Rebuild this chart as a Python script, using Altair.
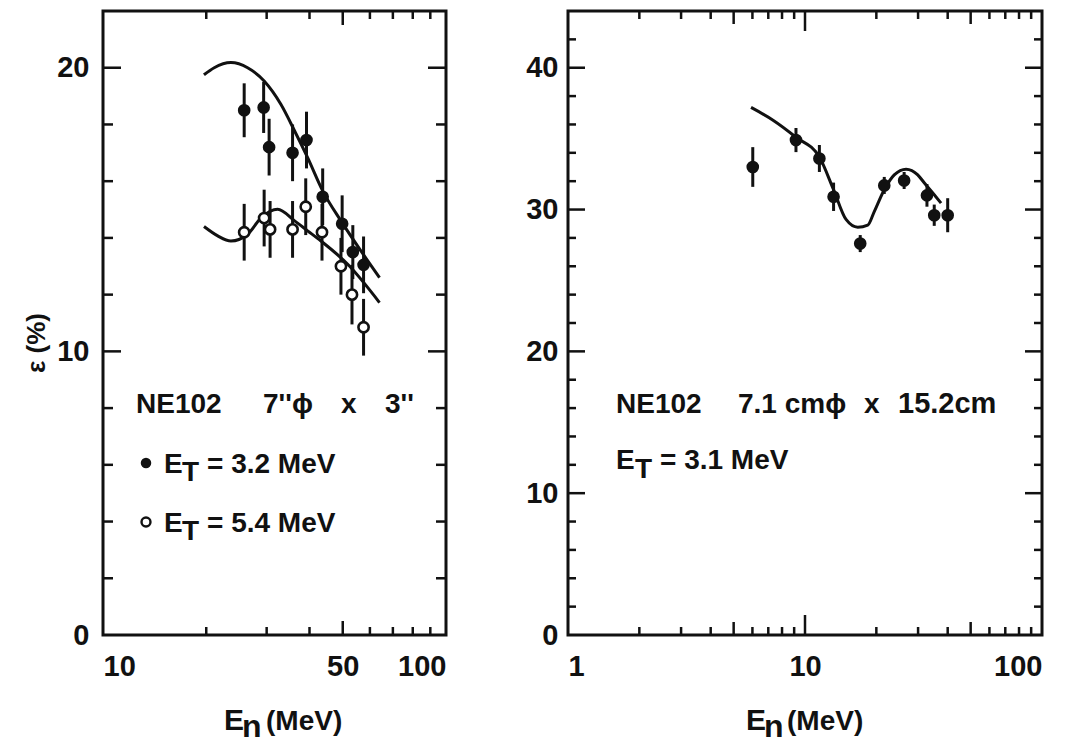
import altair as alt
import pandas as pd

FONT = "Liberation Sans"
INK = "#111111"

# ---------------- Left panel: NE102 7"phi x 3" ----------------
l_fill_E = [25.8, 29.4, 30.5, 35.7, 39.2, 43.7, 49.8, 53.5, 57.5]
l_fill_eff = [18.5, 18.6, 17.2, 17.0, 17.45, 15.45, 14.5, 13.5, 13.05]
l_fill_err = [0.95, 0.9, 1.0, 1.0, 1.0, 1.0, 1.0, 0.95, 1.0]

l_open_E = [25.8, 29.5, 30.7, 35.7, 39.0, 43.5, 49.4, 53.2, 57.5]
l_open_eff = [14.2, 14.7, 14.3, 14.3, 15.1, 14.2, 13.0, 12.0, 10.85]
l_open_err = [1.0, 1.0, 1.0, 1.0, 1.0, 1.0, 1.0, 1.05, 1.0]

l_fit1_E = [19.7, 21.1, 23.6, 26.4, 29.5, 33.0, 36.2, 39.5, 43.7, 49.4, 56.5, 64.0]
l_fit1_eff = [19.75, 20.0, 20.18, 20.0, 19.53, 18.71, 17.77, 16.83, 15.66, 14.6, 13.54, 12.6]
l_fit2_E = [19.7, 21.6, 23.6, 26.4, 28.9, 32.3, 36.2, 39.5, 43.2, 51.7, 64.0]
l_fit2_eff = [14.4, 14.07, 13.89, 14.13, 14.71, 15.01, 14.6, 14.25, 13.89, 13.07, 11.72]

l_x_labels = [10, 50, 100]
l_x_minor = [20, 30, 40, 60, 70, 80, 90]
l_x_mid = [50]
l_y_labels = [0, 10, 20]
l_y_major = [10, 20]
l_y_minor = [2, 4, 6, 8, 12, 14, 16, 18]

# ---------------- Right panel: NE102 7.1 cm phi x 15.2 cm ----------------
r_E = [6.02, 9.16, 11.5, 13.2, 17.1, 21.6, 26.2, 32.7, 35.1, 40.0]
r_eff = [33.0, 34.9, 33.6, 30.9, 27.6, 31.7, 32.05, 31.0, 29.6, 29.6]
r_err = [1.4, 0.85, 0.95, 1.0, 0.6, 0.6, 0.6, 0.8, 0.75, 1.2]

r_fit_E = [5.92, 7.33, 9.16, 11.5, 13.2, 14.9, 16.7, 18.4, 19.6, 21.6, 23.8, 26.7, 29.9, 31.9, 35.1, 37.5]
r_fit_eff = [37.2, 36.3, 35.1, 33.7, 31.4, 29.3, 28.75, 28.9, 29.86, 31.4, 32.45, 32.85, 32.45, 31.87, 31.04, 30.45]

r_x_labels = [1, 10, 100]
r_x_minor = [2, 3, 4, 6, 7, 8, 9, 20, 30, 40, 60, 70, 80, 90]
r_x_mid = [5, 50]
r_x_major = [10]
r_y_labels = [0, 10, 20, 30, 40]
r_y_major = [10, 20, 30, 40]
r_y_minor = [2, 4, 6, 8, 12, 14, 16, 18, 22, 24, 26, 28, 32, 34, 36, 38, 42]

LW, LH = 343, 624
RW, RH = 474, 624


def one_row():
    return pd.DataFrame({"k": [0]})


def text(txt, x, y, size=28, align="left", angle=0, weight="bold", baseline="alphabetic"):
    return alt.Chart(one_row()).mark_text(
        text=txt, font=FONT, fontSize=size, fontWeight=weight, color=INK,
        align=align, baseline=baseline, angle=angle
    ).encode(x=alt.value(x), y=alt.value(y))


def panel(X, Y, w, h, xtick_sets, ytick_sets, layers):
    out = []
    for vals, ln in xtick_sets:
        df = pd.DataFrame({"E": vals})
        b = alt.Chart(df).mark_rule(color=INK, strokeWidth=2.5)
        out.append(b.encode(x=X, y=alt.value(h), y2=alt.value(h - ln)))
        out.append(b.encode(x=X, y=alt.value(0), y2=alt.value(ln)))
    for vals, ln in ytick_sets:
        df = pd.DataFrame({"eff": vals})
        b = alt.Chart(df).mark_rule(color=INK, strokeWidth=2.5)
        out.append(b.encode(y=Y, x=alt.value(0), x2=alt.value(ln)))
        out.append(b.encode(y=Y, x=alt.value(w), x2=alt.value(w - ln)))
    return alt.layer(*layers, *out).properties(width=w, height=h)


def data_layers(X, Y, yscale, yaxis, E, eff, err, open_pts=False):
    df = pd.DataFrame({"E": E, "eff": eff, "err": err})
    df["lo"] = df["eff"] - df["err"]
    df["hi"] = df["eff"] + df["err"]
    bars = alt.Chart(df).mark_rule(color=INK, strokeWidth=3).encode(
        x=X, y=alt.Y("lo:Q", scale=yscale, axis=yaxis), y2="hi:Q")
    if open_pts:
        pts = alt.Chart(df).mark_point(shape="circle", size=105, filled=True, fill="white",
                                       stroke=INK, strokeWidth=2.6, opacity=1).encode(x=X, y=Y)
    else:
        pts = alt.Chart(df).mark_circle(size=160, color=INK, opacity=1).encode(x=X, y=Y)
    return [bars, pts]


def curve(X, Y, E, eff):
    df = pd.DataFrame({"E": E, "eff": eff})
    return alt.Chart(df).mark_line(color=INK, strokeWidth=3, interpolate="monotone").encode(x=X, y=Y)


# ---- left ----
L_YS = alt.Scale(domain=[0, 22])
L_YA = alt.Axis(values=l_y_labels, title=None, labelPadding=14)
LX = alt.X("E:Q", scale=alt.Scale(type="log", domain=[10, 100]),
           axis=alt.Axis(values=l_x_labels, title=None, labelPadding=17, format="d"))
LY = alt.Y("eff:Q", scale=L_YS, axis=L_YA)

left_layers = [
    curve(LX, LY, l_fit1_E, l_fit1_eff),
    curve(LX, LY, l_fit2_E, l_fit2_eff),
    *data_layers(LX, LY, L_YS, L_YA, l_fill_E, l_fill_eff, l_fill_err),
    *data_layers(LX, LY, L_YS, L_YA, l_open_E, l_open_eff, l_open_err, open_pts=True),
    text("NE102", 33, 402),
    text("7''\u03d5", 160, 402), text("x", 238, 402), text("3''", 282, 402),
    alt.Chart(one_row()).mark_circle(size=110, color=INK, opacity=1).encode(x=alt.value(43), y=alt.value(452)),
    text("E", 61, 462), text("T", 79, 470), text("= 3.2 MeV", 104, 462),
    alt.Chart(one_row()).mark_point(shape="circle", size=80, filled=True, fill="white", stroke=INK,
                                    strokeWidth=2.4, opacity=1).encode(x=alt.value(43), y=alt.value(511)),
    text("E", 61, 521), text("T", 79, 529), text("= 5.4 MeV", 104, 521),
    text("\u03b5 (%)", -66, 332, size=26, angle=270, baseline="middle", align="center"),
    text("E", 121, 719, size=30), text("n", 139, 726, size=32), text("(MeV)", 163, 719, size=28),
]
left = panel(LX, LY, LW, LH,
             [(l_x_minor, 8), (l_x_mid, 14)],
             [(l_y_minor, 10), (l_y_major, 18)],
             left_layers)

# ---- right ----
R_YS = alt.Scale(domain=[0, 44])
R_YA = alt.Axis(values=r_y_labels, title=None, labelPadding=10)
RX = alt.X("E:Q", scale=alt.Scale(type="log", domain=[1, 100]),
           axis=alt.Axis(values=r_x_labels, title=None, labelPadding=17, format="d"))
RY = alt.Y("eff:Q", scale=R_YS, axis=R_YA)

right_layers = [
    curve(RX, RY, r_fit_E, r_fit_eff),
    *data_layers(RX, RY, R_YS, R_YA, r_E, r_eff, r_err),
    text("NE102", 48, 402),
    text("7.1 cm\u03d5", 170, 402), text("x", 296, 402), text("15.2cm", 330, 402, size=29),
    text("E", 48, 458), text("T", 67, 467), text("= 3.1 MeV", 92, 458),
    text("E", 178, 719, size=30), text("n", 196, 726, size=32), text("(MeV)", 219, 719, size=28),
]
right = panel(RX, RY, RW, RH,
              [(r_x_minor, 8), (r_x_mid, 13), (r_x_major, 20)],
              [(r_y_minor, 8), (r_y_major, 17)],
              right_layers)

chart = alt.hconcat(left, right, spacing=75).properties(
    padding={"left": 14, "top": 0, "right": 0, "bottom": 0}
).configure_view(stroke=INK, strokeWidth=3).configure_axis(
    labelFont=FONT, labelFontSize=29, labelColor=INK, labelFontWeight="bold",
    ticks=False, domain=False, grid=False
)

chart.save("out.html", embed_options={"renderer": "svg", "actions": False})
